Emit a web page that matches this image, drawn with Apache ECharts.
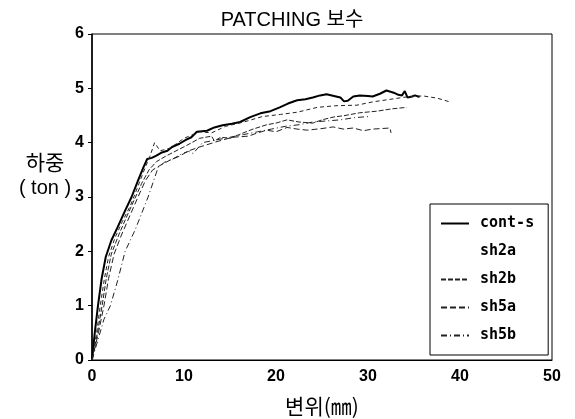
<!DOCTYPE html>
<html>
<head>
<meta charset="utf-8">
<script src="https://cdn.jsdelivr.net/npm/echarts@6/dist/echarts.min.js"></script>
<style>
  html, body { margin: 0; padding: 0; background: #fff; }
  #main { width: 575px; height: 419px; }
</style>
</head>
<body>
<div id="main"></div>
<script>
// 변위(mm) / 하중(ton) pairs
var contS = [[0,0],[0.3,0.5],[0.65,1.0],[1.05,1.5],[1.5,1.9],[2.1,2.2],[2.8,2.45],[3.6,2.75],[4.3,3.0],[5.0,3.3],[5.6,3.55],[6.0,3.7],[6.5,3.72],[7.0,3.76],[7.6,3.82],[8.2,3.85],[8.7,3.92],[9.5,3.98],[10.2,4.05],[10.8,4.1],[11.4,4.2],[12.5,4.22],[13.3,4.28],[14.2,4.32],[15.2,4.35],[16.1,4.38],[17.2,4.47],[18.3,4.54],[19.4,4.58],[20.4,4.65],[21.3,4.72],[22.3,4.78],[23.2,4.8],[24.0,4.83],[24.8,4.87],[25.5,4.89],[26.3,4.86],[27.0,4.83],[27.4,4.76],[27.8,4.77],[28.4,4.85],[29.1,4.87],[30.0,4.86],[30.5,4.85],[31.3,4.9],[32.0,4.96],[32.8,4.92],[33.3,4.88],[33.7,4.87],[34.0,4.95],[34.3,4.83],[34.8,4.85],[35.1,4.87],[35.6,4.84]];
var sh2a = [[0,0],[0.5,0.5],[0.9,1.0],[1.35,1.5],[1.8,1.9],[2.5,2.25],[3.3,2.55],[4.2,2.85],[5.0,3.2],[5.8,3.55],[6.3,3.75],[6.8,4.0],[7.4,3.85],[8.5,3.9],[10.0,4.08],[11.7,4.2],[13.0,4.18],[14.5,4.3],[16.5,4.38],[18.5,4.48],[20.5,4.52],[22.3,4.56],[24.5,4.65],[26.5,4.68],[28.8,4.69],[30.5,4.75],[32.5,4.8],[34.5,4.85],[36.0,4.86],[37.5,4.82],[38.9,4.75]];
var sh2b = [[0,0],[0.6,0.5],[1.1,1.0],[1.55,1.5],[2.1,1.95],[2.9,2.3],[3.8,2.65],[4.6,2.95],[5.4,3.25],[6.2,3.5],[7.0,3.65],[8.0,3.75],[8.8,3.82],[10.3,3.95],[11.7,4.08],[13.0,4.12],[13.3,4.03],[14.0,4.1],[15.0,4.08],[16.0,4.15],[17.5,4.25],[19.0,4.33],[20.0,4.36],[21.2,4.42],[22.5,4.38],[24.0,4.36],[25.0,4.42],[26.2,4.47],[27.5,4.5],[29.1,4.55],[31.0,4.58],[32.5,4.62],[34.2,4.65]];
var sh5a = [[0,0],[0.7,0.5],[1.3,1.0],[1.8,1.5],[2.4,1.95],[3.2,2.3],[4.1,2.65],[5.0,3.0],[5.8,3.3],[6.6,3.5],[7.6,3.6],[8.5,3.68],[9.5,3.75],[10.5,3.85],[11.7,3.92],[13.2,4.0],[14.2,4.05],[15.3,4.1],[17.0,4.12],[18.0,4.18],[19.0,4.23],[20.0,4.2],[21.2,4.28],[22.3,4.25],[23.4,4.23],[25.0,4.26],[26.2,4.29],[27.3,4.25],[28.4,4.27],[29.5,4.22],[30.5,4.25],[31.5,4.26],[32.4,4.27],[32.5,4.18]];
var sh5b = [[0,0],[0.7,0.4],[1.3,0.75],[2.0,1.0],[2.8,1.47],[3.6,2.0],[4.7,2.4],[6.1,3.0],[7.2,3.55],[7.9,3.64],[8.8,3.7],[9.8,3.8],[10.5,3.84],[11.0,3.8],[12.0,4.0],[13.5,4.05],[15.0,4.1],[16.5,4.15],[18.0,4.2],[19.5,4.25],[21.0,4.3],[22.5,4.33],[24.0,4.38],[25.5,4.4],[27.0,4.42],[28.5,4.46],[30.0,4.48]];

var xTicks = [0, 10, 20, 30, 40, 50];
var yTicks = [0, 1, 2, 3, 4, 5, 6];
var names = ['cont-s', 'sh2a', 'sh2b', 'sh5a', 'sh5b'];

var latin = "'Liberation Sans','Noto Sans CJK KR',sans-serif";
var mono = "'DejaVu Sans Mono','Liberation Mono',monospace";
var chart = echarts.init(document.getElementById('main'), null, { renderer: 'canvas' });

function line(name, data, width, type, color) {
  return {
    name: name,
    type: 'line',
    data: data,
    symbol: 'none',
    smooth: false,
    animation: false,
    itemStyle: { color: color },
    lineStyle: { color: color, width: width, type: type }
  };
}

var option = {
  backgroundColor: '#fff',
  title: [
    { text: 'PATCHING 보수', left: 287, top: 5, textAlign: 'center',
      textStyle: { fontFamily: latin, fontSize: 20, fontWeight: 'normal', color: '#000' } },
    { text: '하중', left: 40, top: 147, textAlign: 'center',
      textStyle: { fontFamily: "'Noto Sans CJK KR',sans-serif", fontSize: 21, fontWeight: 'normal', color: '#000' } },
    { text: '( ton )', left: 40, top: 173, textAlign: 'center',
      textStyle: { fontFamily: latin, fontSize: 20, fontWeight: 'normal', color: '#000' } },
    { text: '변위(㎜)', left: 317, top: 391, textAlign: 'center',
      textStyle: { fontFamily: "'Noto Sans CJK KR',sans-serif", fontSize: 21, fontWeight: 'normal', color: '#000' } }
  ],
  legend: {
    data: [
      { name: 'cont-s' },
      { name: 'sh2a', lineStyle: { opacity: 0 } },
      { name: 'sh2b' },
      { name: 'sh5a' },
      { name: 'sh5b' }
    ],
    orient: 'vertical',
    left: 430,
    top: 204,
    padding: [12, 14, 12, 10],
    itemWidth: 28,
    itemHeight: 14,
    itemGap: 13,
    itemStyle: { opacity: 0 },
    backgroundColor: '#fff',
    borderColor: '#000',
    borderWidth: 1,
    borderRadius: 0,
    textStyle: { fontFamily: mono, fontSize: 15, fontWeight: 'bold', color: '#000', padding: [0, 0, 0, 6] }
  },
  grid: {
    left: 92, right: 23, top: 34, bottom: 59,
    show: true, borderColor: '#000', borderWidth: 1, backgroundColor: 'transparent'
  },
  xAxis: {
    type: 'value',
    min: xTicks[0], max: xTicks[xTicks.length - 1], interval: 10,
    axisLine: { show: true, lineStyle: { color: '#000', width: 1 } },
    axisTick: { show: false },
    splitLine: { show: false },
    axisLabel: { margin: 9, color: '#000', fontFamily: latin, fontSize: 16, fontWeight: 'bold' }
  },
  yAxis: {
    type: 'value',
    min: yTicks[0], max: yTicks[yTicks.length - 1], interval: 1,
    axisLine: { show: true, lineStyle: { color: '#000', width: 1.5 } },
    axisTick: { show: true, inside: false, length: 4, lineStyle: { color: '#000' } },
    splitLine: { show: false },
    axisLabel: { margin: 8, color: '#000', fontFamily: latin, fontSize: 16, fontWeight: 'bold' }
  },
  series: [
    line(names[0], contS, 2, 'solid', '#000'),
    line(names[1], sh2a, 1, [4, 3], '#222'),
    line(names[2], sh2b, 1, [5, 2], '#222'),
    line(names[3], sh5a, 1, [6, 3], '#222'),
    line(names[4], sh5b, 1, [6, 3, 1, 3], '#222')
  ]
};
chart.setOption(option);
</script>
</body>
</html>
